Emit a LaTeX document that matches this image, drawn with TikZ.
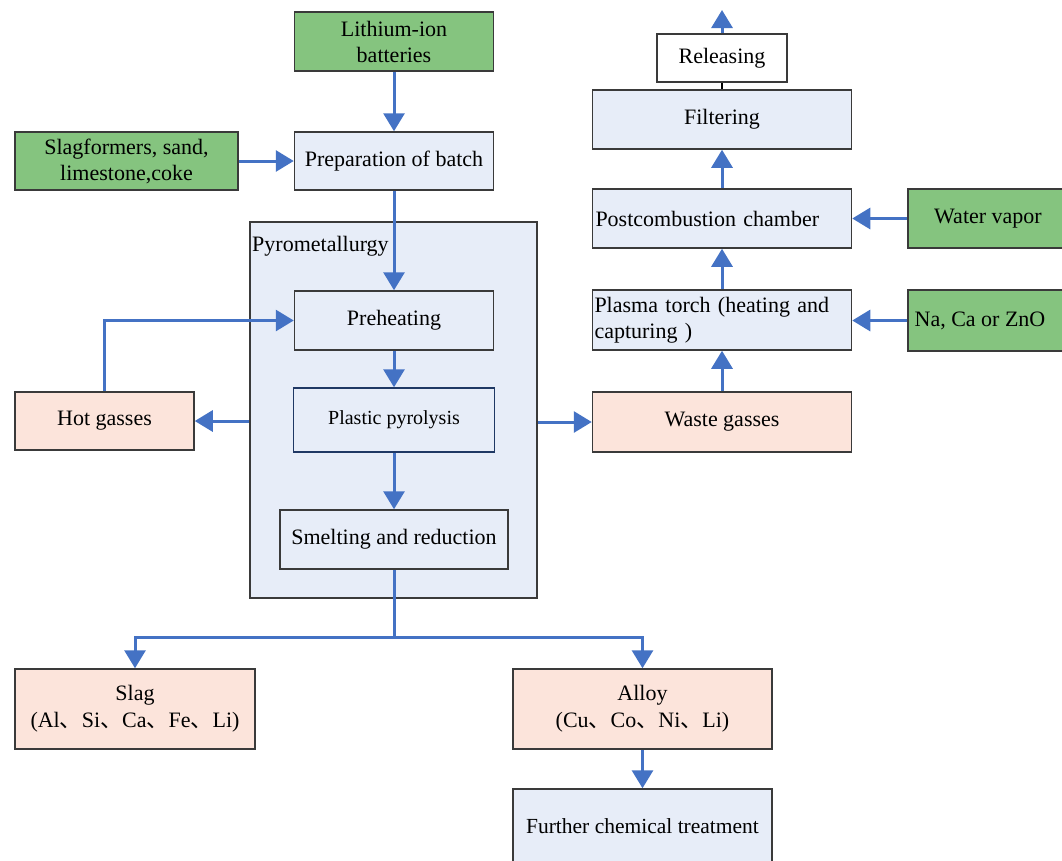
\documentclass[tikz,border=0pt]{standalone}
\usepackage{fontspec}
\setmainfont{Liberation Serif}
\newfontfamily\cjk{Noto Sans CJK SC}
\usetikzlibrary{arrows.meta,positioning}
\newcommand\dun{{\cjk 、}}
\definecolor{gfill}{HTML}{85C47F}
\definecolor{bfill}{HTML}{E7EDF8}
\definecolor{pfill}{HTML}{FCE4DB}
\definecolor{arrc}{HTML}{4472C4}
\definecolor{bord}{HTML}{3A3A3A}
\definecolor{navy}{HTML}{1F3864}
\tikzset{
  box/.style={draw=bord, line width=1.5pt, inner sep=2pt, align=center,
    font=\fontsize{22}{26}\selectfont, text=black},
  gbox/.style={box, fill=gfill},
  bbox/.style={box, fill=bfill},
  pbox/.style={box, fill=pfill},
  arr/.style={draw=arrc, line width=3pt, -{Triangle[width=21pt,length=18pt]}},
  ln/.style={draw=arrc, line width=3pt},
}
\begin{document}
\begin{tikzpicture}[x=1pt,y=-1pt]
\useasboundingbox[fill=white] (0,0) rectangle (1062,860);
% container
\node[draw=bord, line width=1.5pt, fill=bfill, minimum width=287pt, minimum height=376pt] (pyro) at (393.5,410) {};
\node[anchor=west, inner sep=1pt, font=\fontsize{22}{26}\selectfont] (pyrolab) at (251,246) {Pyrometallurgy};
% nodes
\node[gbox, minimum width=199pt, minimum height=59pt] (li) at (394,41.5) {Lithium-ion\\batteries};
\node[bbox, minimum width=199pt, minimum height=58pt] (prep) at (394,161) {Preparation of batch};
\node[gbox, minimum width=223pt, minimum height=58pt] (slagf) at (126.5,161) {Slagformers, sand,\\limestone,coke};
\node[bbox, minimum width=199pt, minimum height=59pt] (preh) at (394,320.5) {Preheating};
\node[bbox, draw=navy, minimum width=201pt, minimum height=64pt, font=\fontsize{20}{24}\selectfont] (plast) at (394,420) {Plastic pyrolysis};
\node[bbox, minimum width=228pt, minimum height=59pt] (smelt) at (394,539.5) {Smelting and reduction};
\node[pbox, minimum width=179pt, minimum height=58pt] (hot) at (104.5,421) {Hot gasses};
\node[pbox, minimum width=259pt, minimum height=60pt] (waste) at (722,422) {Waste gasses};
\node[bbox, minimum width=259pt, minimum height=60pt, align=left, text width=255pt, inner xsep=2pt] (plasma) at (722,320) {Plasma torch (heating and\\capturing )};
\node[gbox, minimum width=160pt, minimum height=61pt] (na) at (988,320.5) {\hspace*{-16pt}Na, Ca or ZnO};
\node[bbox, minimum width=259pt, minimum height=59pt, align=left, text width=253pt] (post) at (722,218.5) {Postcombustion chamber};
\node[gbox, minimum width=160pt, minimum height=59pt] (water) at (988,218.5) {Water vapor};
\node[bbox, minimum width=259pt, minimum height=59pt] (filt) at (722,119.5) {Filtering};
\node[box, fill=white, minimum width=130pt, minimum height=48pt] (rel) at (722,58) {Releasing};
\node[pbox, minimum width=240pt, minimum height=80pt, font=\fontsize{22}{27}\selectfont] (slag) at (135,709) {Slag\\(Al\dun Si\dun Ca\dun Fe\dun Li)};
\node[pbox, minimum width=259pt, minimum height=80pt, font=\fontsize{22}{27}\selectfont] (alloy) at (642.5,709) {Alloy\\(Cu\dun Co\dun Ni\dun Li)};
\node[bbox, minimum width=259pt, minimum height=82pt, font=\fontsize{21.5}{24}\selectfont] (further) at (642.5,830) {\raisebox{8pt}{Further chemical treatment}};
% coordinates
\coordinate (relout) at (722,10);
\coordinate (split) at (394,637);
% connectors
\draw[arr] (li) -- (prep);
\draw[arr] (slagf) -- (prep);
\draw[arr] (prep) -- (preh);
\draw[arr] (hot.north) |- (preh.west);
\draw[arr] (pyro.west |- hot) -- (hot.east);
\draw[arr] (preh) -- (plast);
\draw[arr] (plast) -- (smelt);
\draw[arr] (pyro.east |- waste) -- (waste.west);
\draw[arr] (waste) -- (plasma);
\draw[arr] (na.west) -- (plasma.east |- na.west);
\draw[arr] (plasma) -- (post);
\draw[arr] (water.west) -- (post.east |- water.west);
\draw[arr] (post) -- (filt);
\draw[line width=2pt, black] (filt.north) -- (rel.south);
\draw[arr] (rel.north) -- (relout);
\draw[ln] (smelt.south) -- (split);
\draw[arr] (split) -| (slag.north);
\draw[arr] (split) -| (alloy.north);
\draw[arr] (alloy) -- (further);
\end{tikzpicture}
\end{document}
